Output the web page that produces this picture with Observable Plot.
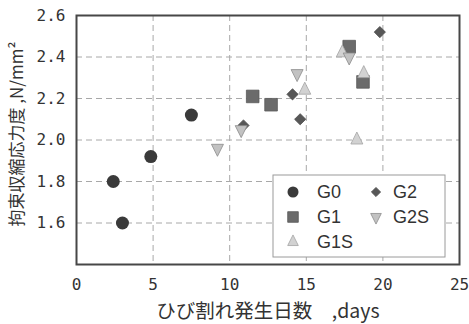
<!DOCTYPE html>
<html>
<head>
<meta charset="utf-8">
<script src="https://cdn.jsdelivr.net/npm/d3@7"></script>
<script src="https://cdn.jsdelivr.net/npm/@observablehq/plot@0.6"></script>
<style>
  html, body { margin: 0; padding: 0; background: #fff; }
  #chart { width: 469px; height: 324px; }
</style>
</head>
<body>
<div id="chart"></div>
<script>
// Crack onset day (x) and restrained shrinkage stress (y) per mix series
const seriesNames = ["G0", "G1", "G1S", "G2", "G2S"];
const g0Days   = [2.4, 3.0, 4.85, 7.5];
const g0Stress = [1.80, 1.60, 1.92, 2.12];
const g1Days   = [11.5, 12.7, 17.8, 18.7];
const g1Stress = [2.21, 2.17, 2.45, 2.28];
const g1sDays   = [14.9, 17.35, 18.75, 18.3];
const g1sStress = [2.24, 2.42, 2.32, 2.00];
const g2Days   = [10.9, 14.1, 14.6, 19.8];
const g2Stress = [2.07, 2.22, 2.10, 2.52];
const g2sDays   = [9.2, 10.75, 14.4, 17.8];
const g2sStress = [1.96, 2.05, 2.32, 2.40];

const xTicks = [0, 5, 10, 15, 20, 25];
const yTicks = [1.6, 1.8, 2.0, 2.2, 2.4, 2.6];
const xTitle = "ひび割れ発生日数\u3000,days";
const yTitle = "拘束収縮応力度 ,N/mm²";

const seriesDays = [g0Days, g1Days, g1sDays, g2Days, g2sDays];
const seriesStress = [g0Stress, g1Stress, g1sStress, g2Stress, g2sStress];
const rows = seriesNames.flatMap((name, i) =>
  seriesDays[i].map((d, j) => ({series: name, days: d, stress: seriesStress[i][j]})));

// Custom marker shapes; half-extent derived from Plot's size (r²π)
const half = size => Math.sqrt(size / Math.PI);
const squareSym = {draw(c, s) { const r = half(s); c.rect(-r, -r, 2 * r, 2 * r); }};
const diamondSym = {draw(c, s) { const r = half(s); c.moveTo(0, -r); c.lineTo(r, 0); c.lineTo(0, r); c.lineTo(-r, 0); c.closePath(); }};
const triUpSym = {draw(c, s) { const r = half(s); c.moveTo(0, -4 * r / 3); c.lineTo(r, 2 * r / 3); c.lineTo(-r, 2 * r / 3); c.closePath(); }};
const triDownSym = {draw(c, s) { const r = half(s); c.moveTo(0, 4 * r / 3); c.lineTo(r, -2 * r / 3); c.lineTo(-r, -2 * r / 3); c.closePath(); }};

const styles = {
  G0:  {symbol: "circle",   r: 6.5, lr: 5.5, fill: "#3a3a3a", stroke: "none"},
  G1:  {symbol: squareSym,  r: 6.3, lr: 5.3, fill: "#6b6b6b", stroke: "#5a5a5a"},
  G1S: {symbol: triUpSym,   r: 6,   lr: 5.3, fill: "#d2d2d2", stroke: "#a3a3a3"},
  G2:  {symbol: diamondSym, r: 5.6, lr: 4.6, fill: "#575757", stroke: "#4a4a4a"},
  G2S: {symbol: triDownSym, r: 6,   lr: 5.3, fill: "#c2c2c2", stroke: "#8c8c8c"}
};

const grid = {stroke: "#a8a8a8", strokeOpacity: 1, strokeWidth: 1, strokeDasharray: "6,4"};

const chart = Plot.plot({
  width: 469,
  height: 324,
  marginLeft: 76,
  marginRight: 10,
  marginTop: 15,
  marginBottom: 60,
  style: {fontFamily: "DejaVu Sans Mono", fontSize: "16px", color: "#333", background: "#fff"},
  x: {domain: [0, 25]},
  y: {domain: [1.4, 2.6]},
  marks: [
    Plot.gridX([5, 10, 15, 20], grid),
    Plot.gridY([1.6, 1.8, 2.0, 2.2, 2.4], grid),
    Plot.axisX(xTicks, {tickSize: 0, tickPadding: 14, label: null, tickFormat: d => String(d)}),
    Plot.axisY(yTicks, {tickSize: 0, tickPadding: 11, label: null, tickFormat: d3.format(".1f")}),
    Plot.frame({stroke: "#474747", strokeWidth: 2}),
    ...seriesNames.map(name => Plot.dot(rows.filter(d => d.series === name), {
      x: "days", y: "stress",
      symbol: styles[name].symbol, r: styles[name].r,
      fill: styles[name].fill, stroke: styles[name].stroke, strokeWidth: 0.8
    })),
    Plot.text([xTitle], {frameAnchor: "bottom", dy: 47, lineAnchor: "middle", textAnchor: "middle",
      fontFamily: "Noto Sans CJK JP", fontSize: 19.5, fill: "#333"}),
    Plot.text([yTitle], {frameAnchor: "left", rotate: -90, dx: -59, dy: -6, lineAnchor: "middle", textAnchor: "middle",
      fontFamily: "Noto Sans CJK JP", fontSize: 17, fill: "#333"})
  ]
});
document.getElementById("chart").append(chart);

// Boxed legend inside the lower-right of the plot frame (two columns, column-major)
const svg = d3.select(chart);
const box = {x: 273, y: 175, w: 172, h: 82};
const lg = svg.append("g").attr("text-anchor", "start");
lg.append("rect").attr("x", box.x).attr("y", box.y).attr("width", box.w).attr("height", box.h)
  .attr("fill", "#fff").attr("stroke", "#9a9a9a").attr("stroke-width", 1);
const colX = [box.x + 20, box.x + 103];
const textX = [box.x + 44, box.x + 120];
const rowY = [box.y + 17, box.y + 42, box.y + 67];
seriesNames.forEach((name, i) => {
  const col = Math.floor(i / 3), row = i % 3;
  const st = styles[name];
  const sym = typeof st.symbol === "string" ? d3.symbolCircle : st.symbol;
  lg.append("path")
    .attr("d", d3.symbol(sym, Math.PI * st.lr * st.lr)())
    .attr("transform", `translate(${colX[col]},${rowY[row]})`)
    .attr("fill", st.fill).attr("stroke", st.stroke).attr("stroke-width", 0.8);
  lg.append("text")
    .attr("x", textX[col]).attr("y", rowY[row]).attr("dy", "0.36em")
    .attr("text-anchor", "start")
    .attr("font-family", "Liberation Sans, Arial, sans-serif").attr("font-size", 18)
    .attr("fill", "#333").text(name);
});
</script>
</body>
</html>
